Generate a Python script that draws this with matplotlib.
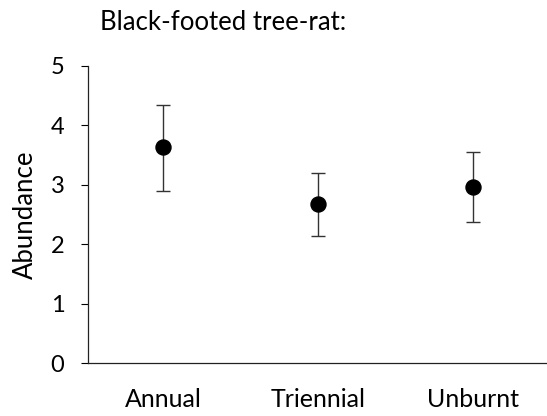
import matplotlib
matplotlib.use("Agg")
import matplotlib.pyplot as plt

plt.rcParams['font.family'] = ['Lato', 'DejaVu Sans']

# Mean abundance per fire regime, with upper/lower error limits
regimes = ["Annual", "Triennial", "Unburnt"]
means = [3.63, 2.67, 2.97]
upper = [4.34, 3.20, 3.56]
lower = [2.90, 2.14, 2.37]

err_low = [m - lo for m, lo in zip(means, lower)]
err_high = [hi - m for m, hi in zip(means, upper)]

fig = plt.figure(figsize=(5.47, 4.16), dpi=100)
ax = fig.add_axes([88 / 547, 53 / 416, 459 / 547, 297 / 416])

x = list(range(len(regimes)))
ax.errorbar(x, means, yerr=[err_low, err_high], fmt='o', color='black',
            ecolor='#333333', elinewidth=1.0, capsize=4.7, capthick=1.0,
            markersize=10.8)

ax.set_xlim(-0.484, 2.477)
ax.set_ylim(0, 5)
ax.set_yticks([0, 1, 2, 3, 4, 5])
ax.set_xticks(x)
ax.set_xticklabels(regimes, fontsize=18)
ax.tick_params(axis='x', length=0, pad=18)
ax.tick_params(axis='y', direction='out', length=5, width=0.8, labelsize=17, pad=12)

ax.spines['top'].set_visible(False)
ax.spines['right'].set_visible(False)
for s in ('left', 'bottom'):
    ax.spines[s].set_linewidth(0.9)
    ax.spines[s].set_color('#222222')

ax.set_ylabel("Abundance", fontsize=18.5, labelpad=9)
fig.text(100 / 547, 1 - 22 / 416, "Black-footed tree-rat:", fontsize=18.5,
         ha='left', va='center')

fig.savefig("out.png", dpi=100)
